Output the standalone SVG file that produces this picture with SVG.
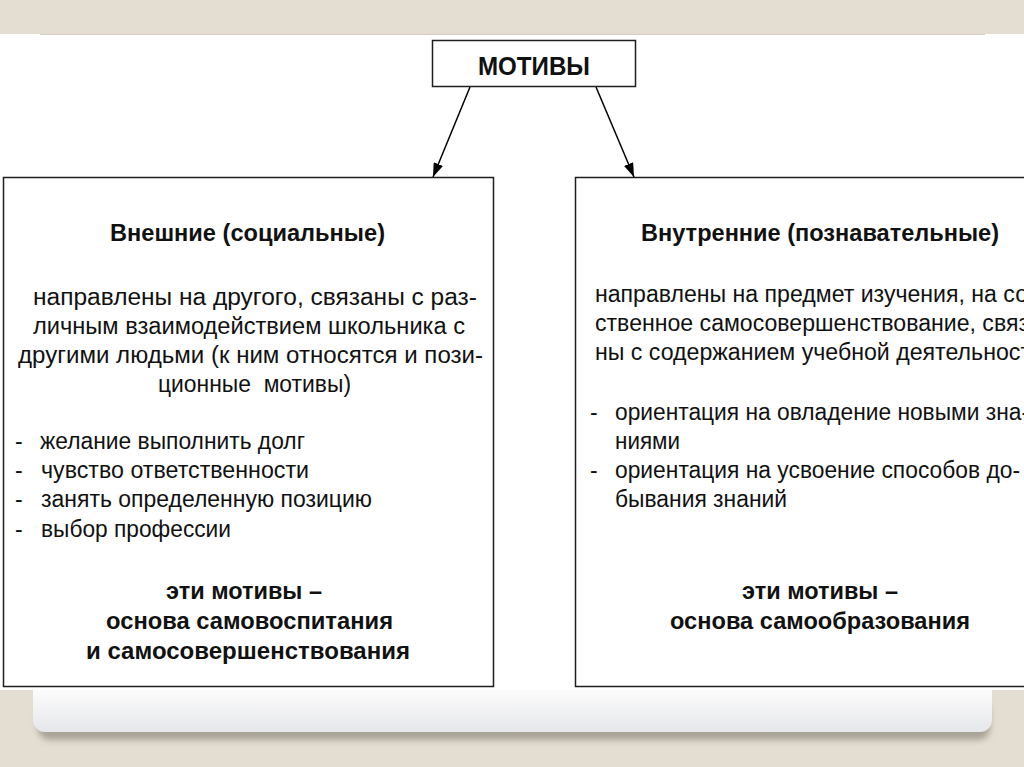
<svg xmlns="http://www.w3.org/2000/svg" width="1024" height="767" viewBox="0 0 1024 767">
  <defs>
    <marker id="arrow" viewBox="0 0 14 10" refX="14" refY="5" markerWidth="14" markerHeight="10" markerUnits="userSpaceOnUse" orient="auto">
      <path d="M0,0 L14,5 L0,10 Z" fill="#000"/>
    </marker>
    <linearGradient id="panelGrad" x1="0" y1="0" x2="0" y2="1">
      <stop offset="0" stop-color="#ffffff"/>
      <stop offset="0.93" stop-color="#ffffff"/>
      <stop offset="1" stop-color="#e6e7ea"/>
    </linearGradient>
    <filter id="blur" x="-5%" y="-5%" width="110%" height="120%">
      <feGaussianBlur stdDeviation="3"/>
    </filter>
    <style>
      .box { fill: #ffffff; stroke: #1e1e1e; stroke-width: 1.5; }
      .t { font-family: "Liberation Sans", Arial, sans-serif; font-size: 23px; fill: #111; }
      .b { font-weight: bold; }
      .conn { stroke: #000; stroke-width: 1.5; fill: none; marker-end: url(#arrow); }
    </style>
  </defs>

  <!-- background -->
  <rect x="0" y="0" width="1024" height="767" fill="#e4ddd1"/>
  <rect x="38" y="700" width="952" height="40" rx="12" fill="#a9a397" filter="url(#blur)"/>
  <rect x="33" y="34" width="959" height="698" rx="12" fill="url(#panelGrad)"/>
  <rect x="0" y="34" width="1024" height="656" fill="#ffffff"/>
  <line x1="40" y1="34.5" x2="985" y2="34.5" stroke="#d2ccc2" stroke-width="1"/>

  <!-- connectors -->
  <g id="connectors">
    <line class="conn" x1="470" y1="87" x2="433" y2="177"/>
    <line class="conn" x1="596" y1="87" x2="634" y2="177"/>
  </g>

  <!-- root node -->
  <g id="motives">
    <rect class="box" x="432.5" y="40.5" width="203" height="46"/>
    <text class="t b" x="478" y="75" textLength="112" lengthAdjust="spacingAndGlyphs" style="font-size:25px">МОТИВЫ</text>
  </g>

  <!-- left node -->
  <g id="external">
    <rect class="box" x="3.5" y="177.5" width="490" height="509"/>
    <text class="t b" x="110" y="241" textLength="275" lengthAdjust="spacingAndGlyphs">Внешние (социальные)</text>
    <text class="t" x="33" y="305" textLength="444" lengthAdjust="spacingAndGlyphs">направлены на другого, связаны с раз-</text>
    <text class="t" x="33" y="334" textLength="432" lengthAdjust="spacingAndGlyphs">личным взаимодействием школьника с</text>
    <text class="t" x="18" y="363" textLength="465" lengthAdjust="spacingAndGlyphs">другими людьми (к ним относятся и пози-</text>
    <text class="t" x="158" y="392" textLength="193" lengthAdjust="spacingAndGlyphs" xml:space="preserve">ционные  мотивы)</text>
    <text class="t" x="15" y="449">-</text><text class="t" x="40" y="449" textLength="265" lengthAdjust="spacingAndGlyphs">желание выполнить долг</text>
    <text class="t" x="15" y="478">-</text><text class="t" x="41" y="478" textLength="268" lengthAdjust="spacingAndGlyphs">чувство ответственности</text>
    <text class="t" x="15" y="507">-</text><text class="t" x="41" y="507" textLength="331" lengthAdjust="spacingAndGlyphs">занять определенную позицию</text>
    <text class="t" x="15" y="537">-</text><text class="t" x="41" y="537" textLength="190" lengthAdjust="spacingAndGlyphs">выбор профессии</text>
    <text class="t b" x="166" y="599" textLength="156" lengthAdjust="spacingAndGlyphs">эти мотивы –</text>
    <text class="t b" x="106" y="629" textLength="287" lengthAdjust="spacingAndGlyphs">основа самовоспитания</text>
    <text class="t b" x="86" y="659" textLength="324" lengthAdjust="spacingAndGlyphs">и самосовершенствования</text>
  </g>

  <!-- right node -->
  <g id="internal">
    <rect class="box" x="575.5" y="177.5" width="500" height="509"/>
    <text class="t b" x="641" y="241" textLength="358" lengthAdjust="spacingAndGlyphs">Внутренние (познавательные)</text>
    <text class="t" x="595" y="302" textLength="433" lengthAdjust="spacingAndGlyphs">направлены на предмет изучения, на со</text>
    <text class="t" x="595" y="331" textLength="434" lengthAdjust="spacingAndGlyphs">ственное самосовершенствование, связ</text>
    <text class="t" x="595" y="360" textLength="436" lengthAdjust="spacingAndGlyphs">ны с содержанием учебной деятельност</text>
    <text class="t" x="590" y="420">-</text><text class="t" x="615" y="420" textLength="414" lengthAdjust="spacingAndGlyphs">ориентация на овладение новыми зна-</text>
    <text class="t" x="615" y="449" textLength="65" lengthAdjust="spacingAndGlyphs">ниями</text>
    <text class="t" x="590" y="478">-</text><text class="t" x="615" y="478" textLength="405" lengthAdjust="spacingAndGlyphs">ориентация на усвоение способов до-</text>
    <text class="t" x="615" y="507" textLength="172" lengthAdjust="spacingAndGlyphs">бывания знаний</text>
    <text class="t b" x="742" y="599" textLength="156" lengthAdjust="spacingAndGlyphs">эти мотивы –</text>
    <text class="t b" x="670" y="629" textLength="300" lengthAdjust="spacingAndGlyphs">основа самообразования</text>
  </g>
</svg>
